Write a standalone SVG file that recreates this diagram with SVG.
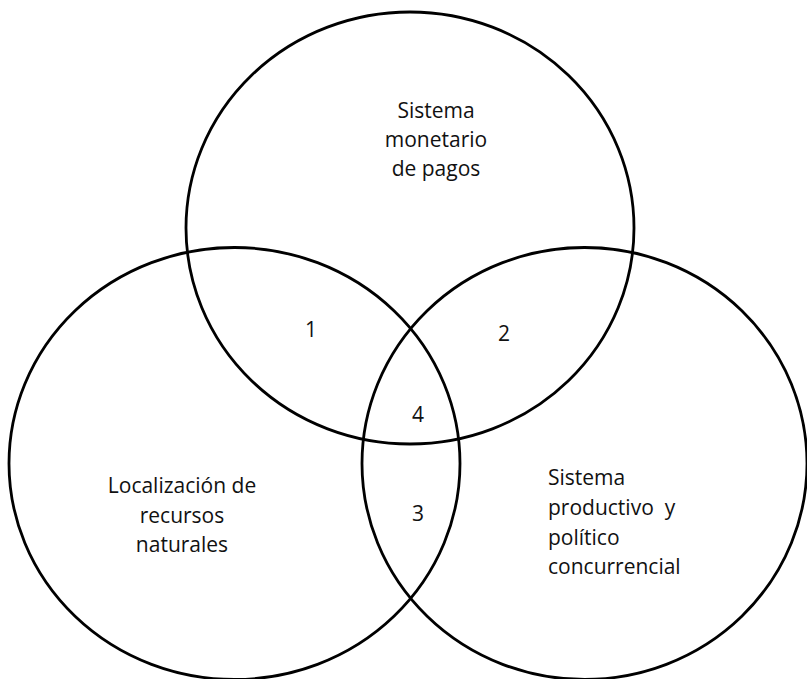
<svg xmlns="http://www.w3.org/2000/svg" width="807" height="679" viewBox="0 0 807 679">
<style>
.c{fill:none;stroke:#000;stroke-width:2.8}
.t{font-family:"Open Sans","Liberation Sans",sans-serif;font-size:21px;fill:#111}
.m{text-anchor:middle}
</style>
<rect width="807" height="679" fill="#fff"/>
<g id="set-monetario">
<ellipse class="c" cx="410" cy="228" rx="224" ry="216"/>
<text class="t m" x="436" y="118">Sistema</text>
<text class="t m" x="436" y="147">monetario</text>
<text class="t m" x="436" y="176">de pagos</text>
</g>
<g id="set-recursos">
<ellipse class="c" cx="234.5" cy="463.5" rx="225.5" ry="216"/>
<text class="t m" x="182" y="493">Localización de</text>
<text class="t m" x="182" y="523">recursos</text>
<text class="t m" x="182" y="552">naturales</text>
</g>
<g id="set-productivo">
<ellipse class="c" cx="584.5" cy="463.5" rx="222.5" ry="216"/>
<text class="t" x="548" y="485">Sistema</text>
<text class="t" x="548" y="515" xml:space="preserve" style="white-space:pre">productivo  y</text>
<text class="t" x="548" y="545">político</text>
<text class="t" x="548" y="574">concurrencial</text>
</g>
<g id="regions">
<text class="t m" x="311" y="337">1</text>
<text class="t m" x="504" y="341">2</text>
<text class="t m" x="418" y="521">3</text>
<text class="t m" x="418" y="422">4</text>
</g>
<g id="connectors"/>
</svg>
